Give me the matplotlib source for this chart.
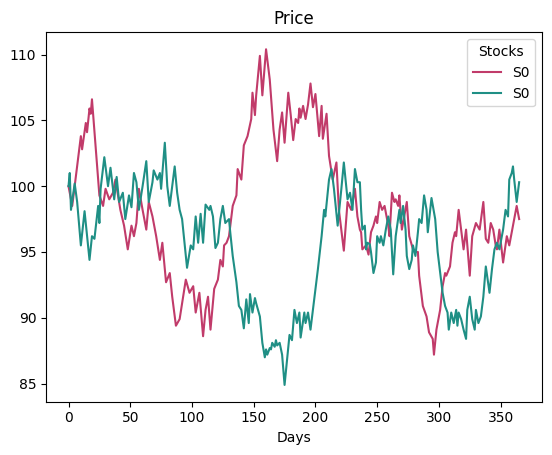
import matplotlib
matplotlib.use("Agg")
import matplotlib.pyplot as plt

# red stock (vertices only)
red_days = [0, 3, 10, 11, 14, 15, 17, 18, 19, 25, 28, 30, 33, 36, 38, 42, 45, 48,
            51, 53, 55, 57, 60, 63, 65, 68, 71, 74, 76, 79, 82, 84, 87, 90, 92, 95,
            98, 101, 103, 106, 109, 111, 113, 115, 118, 121, 123, 125, 126, 128, 130,
            133, 136, 137, 140, 142, 145, 148, 149, 151, 152, 155, 157, 160, 163, 166,
            169, 171, 173, 175, 178, 180, 182, 184, 186, 187, 188, 190, 192, 194, 196,
            198, 200, 203, 205, 206, 209, 211, 214, 217, 219, 223, 226, 229, 232, 234,
            236, 237, 238, 241, 243, 245, 247, 249, 250, 252, 254, 256, 259, 260, 262,
            264, 265, 267, 268, 270, 274, 276, 279, 281, 283, 284, 287, 290, 292, 295,
            296, 298, 301, 303, 305, 306, 309, 311, 313, 314, 316, 318, 320, 322, 325,
            327, 330, 333, 336, 338, 340, 342, 344, 346, 347, 349, 352, 355, 357, 359,
            360, 363, 365]
red_vals = [100.0, 98.5, 103.8, 102.8, 104.8, 104.1, 105.9, 105.5, 106.6, 99.3, 98.5,
            99.8, 99.0, 99.5, 100.5, 98.2, 97.0, 95.2, 97.0, 96.2, 97.2, 99.8, 98.2,
            96.7, 98.8, 97.7, 96.2, 94.4, 95.7, 92.7, 93.4, 91.6, 89.4, 89.9, 91.1,
            92.9, 91.9, 92.4, 90.4, 91.9, 88.6, 90.6, 91.6, 89.1, 92.2, 92.9, 94.4,
            93.9, 95.5, 95.7, 96.2, 98.5, 99.3, 101.3, 100.5, 103.1, 103.8, 105.1,
            107.1, 105.4, 106.9, 109.9, 106.9, 110.4, 108.1, 104.3, 101.9, 104.3,
            105.6, 103.3, 107.1, 105.4, 103.5, 105.1, 104.8, 105.9, 105.2, 106.1,
            105.1, 106.2, 107.8, 106.0, 107.0, 103.8, 106.1, 103.6, 105.5, 102.3,
            100.5, 101.8, 98.2, 95.1, 98.8, 98.2, 99.8, 97.7, 96.7, 96.5, 95.2, 95.5,
            94.8, 96.5, 97.0, 97.7, 97.2, 98.8, 98.2, 98.5, 97.0, 96.2, 99.5, 98.8,
            99.0, 98.5, 99.3, 96.7, 98.8, 96.2, 95.2, 95.0, 95.0, 93.2, 90.9, 90.1,
            88.9, 88.4, 87.2, 89.1, 90.6, 92.4, 93.4, 93.2, 93.9, 95.7, 96.5, 96.2,
            98.2, 96.7, 95.2, 96.7, 93.2, 96.2, 97.2, 96.7, 98.8, 96.0, 95.7, 97.2,
            96.7, 95.5, 95.2, 96.7, 94.2, 96.2, 95.5, 96.5, 97.0, 98.5, 97.5]

# teal stock
teal_days = [0, 1, 2, 5, 7, 10, 13, 17, 19, 21, 24, 25, 26, 29, 32, 34, 37, 39, 41,
             44, 46, 49, 51, 53, 55, 57, 60, 63, 65, 68, 69, 72, 74, 75, 78, 80, 82,
             86, 88, 90, 92, 96, 99, 101, 103, 105, 107, 109, 111, 114, 115, 117, 119,
             121, 123, 125, 127, 130, 131, 133, 136, 138, 140, 142, 144, 146, 147, 149,
             151, 152, 155, 157, 159, 160, 161, 163, 164, 165, 167, 168, 169, 171, 173,
             175, 177, 179, 181, 183, 185, 187, 188, 191, 192, 194, 196, 199, 202, 205,
             207, 208, 211, 213, 215, 218, 221, 223, 226, 228, 230, 232, 234, 236, 237,
             238, 240, 241, 242, 244, 245, 247, 249, 250, 252, 253, 255, 257, 259, 261,
             263, 265, 268, 269, 271, 273, 274, 276, 278, 279, 281, 283, 284, 286, 288,
             290, 291, 294, 297, 299, 302, 303, 305, 307, 308, 310, 312, 314, 315, 316,
             318, 320, 322, 323, 325, 327, 329, 330, 332, 334, 336, 338, 341, 343, 345,
             347, 349, 352, 354, 356, 357, 359, 360, 361, 363, 365]
teal_vals = [100.0, 101.0, 98.2, 100.2, 98.8, 95.5, 98.1, 94.4, 96.2, 96.0, 98.5, 97.2,
             99.8, 102.2, 100.0, 101.4, 99.0, 100.7, 98.8, 99.5, 97.5, 99.3, 98.4,
             101.0, 100.3, 98.2, 100.0, 101.9, 98.8, 100.3, 101.2, 100.5, 101.0, 99.8,
             103.3, 100.0, 98.5, 101.5, 99.5, 98.2, 97.5, 93.8, 95.5, 95.2, 97.7, 95.7,
             97.9, 95.7, 98.6, 98.2, 98.5, 97.7, 95.3, 95.7, 97.5, 98.5, 97.2, 97.5,
             96.5, 94.7, 92.7, 90.9, 90.6, 89.2, 91.4, 89.6, 91.8, 90.4, 91.5, 91.1,
             90.1, 88.1, 87.0, 87.6, 87.2, 87.7, 87.6, 88.1, 87.8, 88.3, 87.9, 88.1,
             87.2, 84.9, 86.8, 88.7, 88.3, 90.6, 89.6, 90.4, 88.5, 90.4, 89.6, 90.4,
             89.1, 91.4, 93.7, 96.2, 98.2, 97.7, 100.5, 101.3, 99.8, 97.0, 99.8, 101.8,
             99.0, 99.5, 98.2, 101.3, 100.3, 100.3, 98.2, 96.7, 97.0, 95.2, 95.7, 95.6,
             95.0, 93.4, 94.2, 96.2, 95.7, 96.2, 95.5, 96.7, 97.7, 96.7, 93.3, 96.2,
             98.2, 97.2, 98.5, 96.7, 94.7, 93.7, 94.4, 95.5, 94.7, 96.5, 97.5, 97.2,
             99.3, 98.2, 96.5, 99.1, 97.5, 95.0, 92.7, 91.9, 90.9, 90.4, 89.1, 90.4,
             89.6, 90.6, 89.4, 90.4, 89.9, 89.1, 88.4, 90.6, 91.6, 89.9, 89.1, 90.6,
             89.6, 90.1, 91.6, 93.9, 91.9, 93.7, 95.2, 95.7, 95.2, 96.7, 98.2, 97.7,
             100.5, 101.0, 101.5, 100.5, 98.8, 100.3]

series = [("S0", red_days, red_vals, "#c13b6a"),
          ("S0", teal_days, teal_vals, "#1f8f85")]

fig, ax = plt.subplots(figsize=(5.52, 4.55), dpi=100)
fig.subplots_adjust(left=0.0833, right=0.9813, top=0.9286, bottom=0.1171)

for label, days, vals, color in series:
    ax.plot(days, vals, color=color, linewidth=1.5, label=label)

ax.set_title("Price")
ax.set_xlabel("Days")
ax.set_xticks(range(0, 351, 50))
ax.legend(title="Stocks", loc="upper right")

fig.savefig("out.png", dpi=100)
